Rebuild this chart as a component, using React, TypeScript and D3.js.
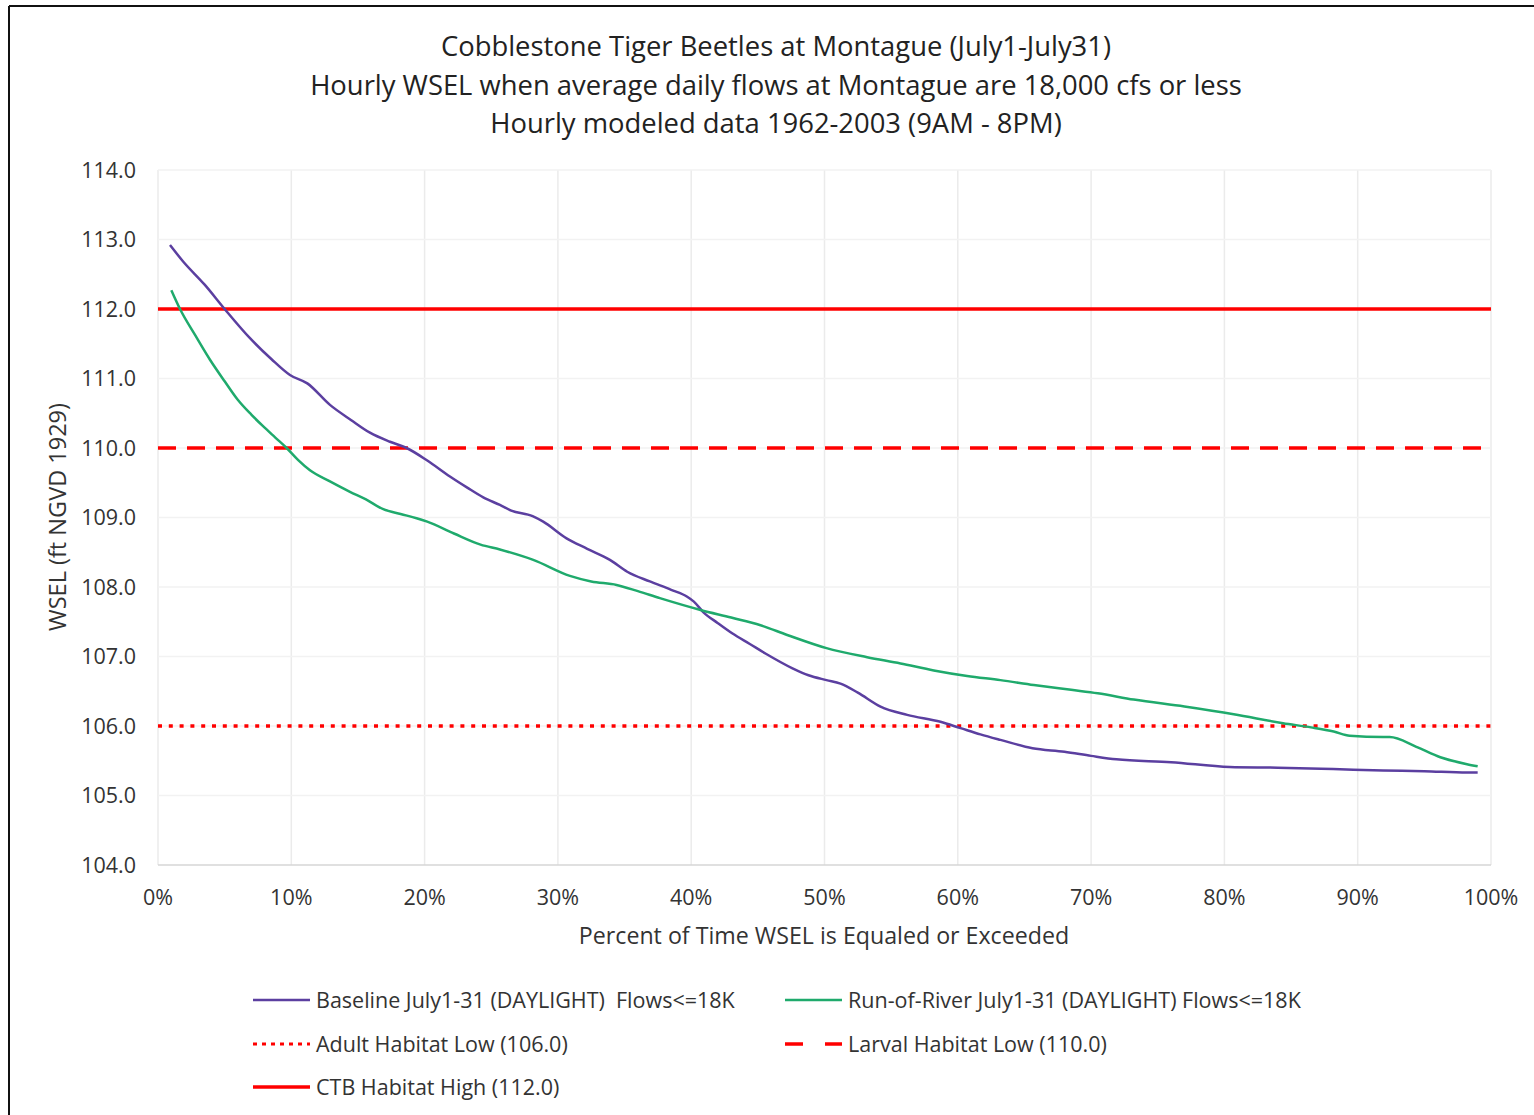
import React from 'react';
import * as d3 from 'd3';

const titleLines = [
  'Cobblestone Tiger Beetles at Montague (July1-July31)',
  'Hourly WSEL when average daily flows at Montague are 18,000 cfs or less',
  'Hourly modeled data 1962-2003 (9AM - 8PM)',
];
const xTicks = [0, 10, 20, 30, 40, 50, 60, 70, 80, 90, 100];
const yTicks = [104, 105, 106, 107, 108, 109, 110, 111, 112, 113, 114];

const baselinePct = [0.9, 1.9, 3.5, 5.0, 6.9, 8.5, 9.9, 11.2, 12.9, 14.5, 15.9, 17.4, 18.65, 20.2, 21.9, 23.2, 24.4, 25.65, 26.5, 28.1, 28.9, 30.65, 32.2, 33.9, 35.2, 36.9, 38.5, 39.7, 40.2, 40.9, 42.0, 43.1, 44.4, 45.6, 47.6, 48.8, 50.15, 51.2, 52.5, 54.2, 56.2, 58.7, 60.2, 61.7, 63.2, 65.6, 68, 70, 71.9, 76, 80.4, 84, 88.15, 91.9, 95, 98.2, 99];
const baselineWsel = [112.92, 112.68, 112.35, 112.0, 111.58, 111.28, 111.05, 110.93, 110.62, 110.40, 110.22, 110.09, 110.0, 109.82, 109.59, 109.43, 109.29, 109.18, 109.1, 109.02, 108.94, 108.70, 108.55, 108.39, 108.22, 108.08, 107.96, 107.86, 107.79, 107.64, 107.48, 107.33, 107.18, 107.04, 106.83, 106.73, 106.66, 106.61, 106.48, 106.28, 106.16, 106.06, 105.97, 105.88, 105.80, 105.68, 105.63, 105.57, 105.52, 105.48, 105.41, 105.40, 105.38, 105.36, 105.35, 105.33, 105.33];

const rorPct = [1.0, 1.65, 2.8, 3.9, 5.0, 6.0, 7.0, 7.9, 8.8, 9.65, 10.5, 11.4, 12.9, 14.4, 15.6, 16.9, 18.2, 19.4, 20.2, 22.2, 24.2, 25.65, 28.15, 30.9, 32.5, 34.4, 36, 37.65, 40.7, 43, 45.2, 47.2, 50.15, 53.2, 55.7, 58.2, 60.7, 63.2, 65.7, 68.5, 70.5, 73.2, 77, 80.7, 84.4, 86.5, 88.2, 89.4, 91.9, 92.4, 94.4, 96.2, 98.2, 99.0];
const rorWsel = [112.27, 112.0, 111.62, 111.27, 110.96, 110.69, 110.48, 110.31, 110.15, 110.0, 109.83, 109.68, 109.52, 109.37, 109.26, 109.12, 109.05, 108.99, 108.94, 108.77, 108.61, 108.54, 108.39, 108.16, 108.08, 108.03, 107.94, 107.84, 107.67, 107.56, 107.45, 107.31, 107.12, 106.99, 106.90, 106.80, 106.72, 106.66, 106.59, 106.52, 106.47, 106.38, 106.28, 106.17, 106.04, 105.98, 105.92, 105.86, 105.84, 105.84, 105.70, 105.55, 105.45, 105.42];

const thresholdValues = [106.0, 110.0, 112.0];
const thresholdNames = ['Adult Habitat Low (106.0)', 'Larval Habitat Low (110.0)', 'CTB Habitat High (112.0)'];
const seriesNames = ['Baseline July1-31 (DAYLIGHT)\u00a0 Flows<=18K', 'Run-of-River July1-31 (DAYLIGHT) Flows<=18K'];

const FONT = '"Open Sans", Lato, sans-serif';
const PURPLE = '#5b3fa0';
const GREEN = '#1faa6c';
const RED = '#ff0000';

const dashFor: Record<number, string | undefined> = { 0: '4 6.8', 1: '18 11', 2: undefined };

export default function App() {
  const W = 1534, H = 1115;
  const x = d3.scaleLinear().domain([0, 100]).range([158, 1491]);
  const y = d3.scaleLinear().domain([104, 114]).range([865, 170]);
  const line = d3.line<[number, number]>().x(d => x(d[0])).y(d => y(d[1])).curve(d3.curveMonotoneX);
  const baseData: [number, number][] = baselinePct.map((p, i) => [p, baselineWsel[i]]);
  const rorData: [number, number][] = rorPct.map((p, i) => [p, rorWsel[i]]);

  const legendRows = [
    { col: 0, row: 0, label: seriesNames[0], color: PURPLE, dash: undefined, w: 2.5 },
    { col: 1, row: 0, label: seriesNames[1], color: GREEN, dash: undefined, w: 2.5 },
    { col: 0, row: 1, label: thresholdNames[0], color: RED, dash: '4 5', w: 3 },
    { col: 1, row: 1, label: thresholdNames[1], color: RED, dash: '18 22', w: 3.5 },
    { col: 0, row: 2, label: thresholdNames[2], color: RED, dash: undefined, w: 3.5 },
  ];
  const colX = [253, 785];
  const rowY = [1000, 1044, 1087];

  return (
    <svg width={W} height={H} style={{ position: 'absolute', left: 0, top: 0, background: '#fff' }} fontFamily={FONT}>
      <rect x={0} y={0} width={W} height={H} fill="#fff" />
      <line x1={9} y1={6} x2={W} y2={6} stroke="#111" strokeWidth={2} />
      <line x1={9} y1={6} x2={9} y2={H} stroke="#111" strokeWidth={2} />
      {titleLines.map((t, i) => (
        <text key={i} x={776} y={56 + i * 38.5} textAnchor="middle" fontSize={27.4} fill="#222">{t}</text>
      ))}
      {xTicks.map(t => (
        <line key={'gx' + t} x1={x(t)} x2={x(t)} y1={y(114)} y2={y(104)} stroke="#ebebeb" strokeWidth={1.5} />
      ))}
      {yTicks.map(t => (
        <line key={'gy' + t} x1={x(0)} x2={x(100)} y1={y(t)} y2={y(t)} stroke={t === 104 ? '#d6d6d6' : '#f2f2f2'} strokeWidth={1.5} />
      ))}
      {yTicks.map(t => (
        <text key={'yl' + t} x={136} y={y(t) + 7.5} textAnchor="end" fontSize={21.5} fill="#333">{d3.format('.1f')(t)}</text>
      ))}
      {xTicks.map(t => (
        <text key={'xl' + t} x={x(t)} y={905} textAnchor="middle" fontSize={21.5} fill="#333">{t + '%'}</text>
      ))}
      <text x={824} y={944} textAnchor="middle" fontSize={23.2} fill="#333">Percent of Time WSEL is Equaled or Exceeded</text>
      <text transform="translate(66,517) rotate(-90)" textAnchor="middle" fontSize={23.5} fill="#333">WSEL (ft NGVD 1929)</text>
      {thresholdValues.map((v, i) => (
        <line key={'th' + i} x1={x(0)} x2={x(100)} y1={y(v)} y2={y(v)} stroke={RED} strokeWidth={3.5} strokeDasharray={dashFor[i]} />
      ))}
      <path d={line(baseData) || ''} fill="none" stroke={PURPLE} strokeWidth={2.5} />
      <path d={line(rorData) || ''} fill="none" stroke={GREEN} strokeWidth={2.5} />
      {legendRows.map((r, i) => (
        <g key={'lg' + i}>
          <line x1={colX[r.col]} x2={colX[r.col] + 57} y1={rowY[r.row]} y2={rowY[r.row]} stroke={r.color} strokeWidth={r.w} strokeDasharray={r.dash} />
          <text x={colX[r.col] + 63} y={rowY[r.row] + 7.5} fontSize={21.5} fill="#333">{r.label}</text>
        </g>
      ))}
    </svg>
  );
}
